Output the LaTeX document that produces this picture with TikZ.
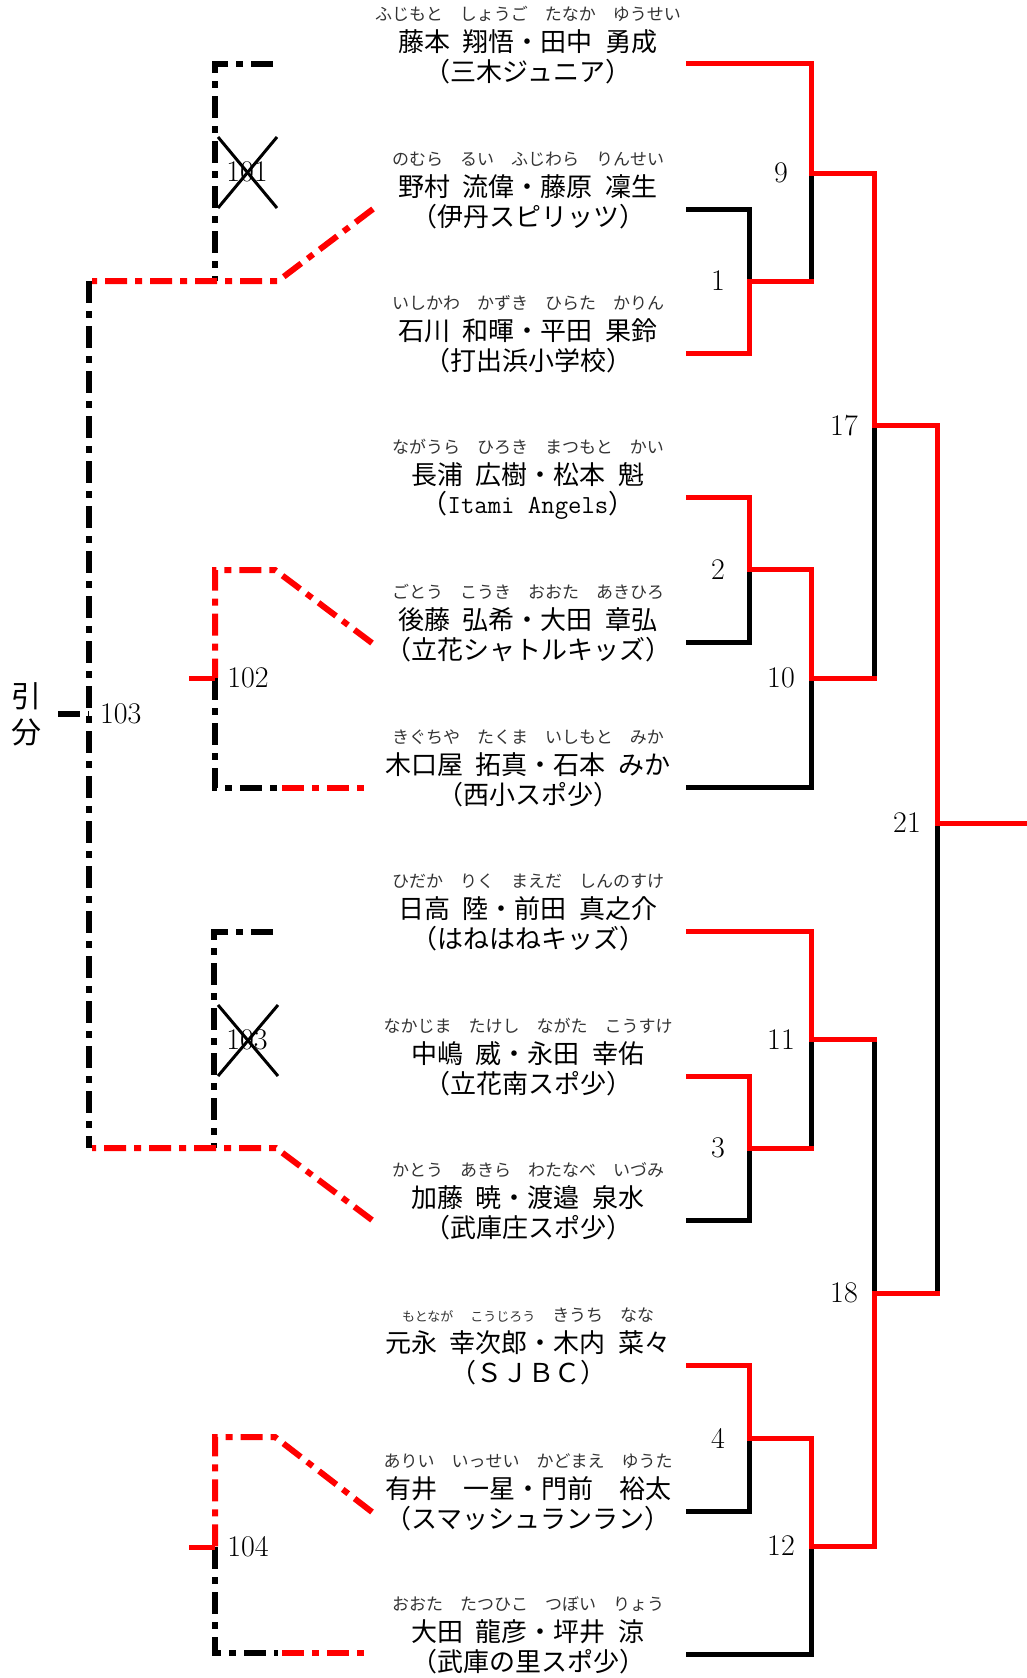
\documentclass[tikz,border=0pt]{standalone}
\usepackage{fontspec}
\newfontfamily\jp[WordSpace=2.2]{Noto Sans CJK JP}
\newcommand\fu[4]{#1\hspace{1.0em}#2\hspace{1.0em}#3\hspace{1.0em}#4}
\newcommand\sm[1]{{\fontsize{13}{15}\selectfont #1}}
\tikzset{
  win/.style={draw=red,line width=5pt,line cap=rect},
  lose/.style={draw=black,line width=5pt,line cap=rect},
  dd/.style={line width=6pt,dash pattern=on 22pt off 8pt on 7pt off 8pt},
  ddr/.style={dd,draw=red},
  ddb/.style={dd,draw=black},
  stub/.style={draw=red,line width=5pt},
  nm/.style={font=\jp\fontsize{26}{30}\selectfont,inner sep=0pt},
  fg/.style={font=\jp\fontsize{17}{20}\selectfont,text=black!80,inner sep=0pt},
  num/.style={font=\fontsize{30}{34}\selectfont,inner sep=0pt},
  xmark/.style={draw=black,line width=3pt},
}
\newcommand\player[5]{%
  \node[fg] (f#1) at (528,#2-50) {#3};
  \node[nm] (n#1) at (528,#2-22) {#4};
  \node[nm] (c#1) at (528,#2+8) {#5};
}
\begin{document}
\begin{tikzpicture}[x=1pt,y=-1pt]
\useasboundingbox (0,0) rectangle (1027,1678);

% players
\player{1}{64}{\fu{ふじもと}{しょうご}{たなか}{ゆうせい}}{藤本 翔悟・田中 勇成}{（三木ジュニア）}
\player{2}{209}{\fu{のむら}{るい}{ふじわら}{りんせい}}{野村 流偉・藤原 凜生}{（伊丹スピリッツ）}
\player{3}{353}{\fu{いしかわ}{かずき}{ひらた}{かりん}}{石川 和暉・平田 果鈴}{（打出浜小学校）}
\player{4}{497}{\fu{ながうら}{ひろき}{まつもと}{かい}}{長浦 広樹・松本 魁}{（{\ttfamily Itami Angels}）}
\player{5}{642}{\fu{ごとう}{こうき}{おおた}{あきひろ}}{後藤 弘希・大田 章弘}{（立花シャトルキッズ）}
\player{6}{787}{\fu{きぐちや}{たくま}{いしもと}{みか}}{木口屋 拓真・石本 みか}{（西小スポ少）}
\player{7}{931}{\fu{ひだか}{りく}{まえだ}{しんのすけ}}{日高 陸・前田 真之介}{（はねはねキッズ）}
\player{8}{1076}{\fu{なかじま}{たけし}{ながた}{こうすけ}}{中嶋 威・永田 幸佑}{（立花南スポ少）}
\player{9}{1220}{\fu{かとう}{あきら}{わたなべ}{いづみ}}{加藤 暁・渡邉 泉水}{（武庫庄スポ少）}
\player{10}{1365}{\fu{\sm{もとなが}}{\sm{こうじろう}}{きうち}{なな}}{元永 幸次郎・木内 菜々}{（ＳＪＢＣ）}
\player{11}{1511}{\fu{ありい}{いっせい}{かどまえ}{ゆうた}}{有井　一星・門前　裕太}{（スマッシュランラン）}
\player{12}{1654}{\fu{おおた}{たつひこ}{つぼい}{りょう}}{大田 龍彦・坪井 涼}{（武庫の里スポ少）}

% main bracket: losing lines
\draw[lose] (688,209) -- (749,209) -- (749,281);
\draw[lose] (811,281) -- (811,173);
\draw[lose] (688,642) -- (749,642) -- (749,569.5);
\draw[lose] (688,787) -- (811,787) -- (811,678);
\draw[lose] (874,678) -- (874,425.5);
\draw[lose] (937,823) -- (937,1293);
\draw[lose] (688,1220) -- (749,1220) -- (749,1148);
\draw[lose] (811,1148) -- (811,1039.5);
\draw[lose] (874,1039.5) -- (874,1293);
\draw[lose] (688,1511) -- (749,1511) -- (749,1438);
\draw[lose] (688,1654) -- (811,1654) -- (811,1546);

% main bracket: winning lines
\draw[win] (688,64) -- (811,64) -- (811,173) -- (874,173) -- (874,425.5) -- (937,425.5) -- (937,823) -- (1030,823);
\draw[win] (688,353) -- (749,353) -- (749,281) -- (811,281);
\draw[win] (688,497) -- (749,497) -- (749,569.5) -- (811,569.5) -- (811,678) -- (874,678);
\draw[win] (688,931) -- (811,931) -- (811,1039.5) -- (874,1039.5);
\draw[win] (688,1076) -- (749,1076) -- (749,1148) -- (811,1148);
\draw[win] (688,1365) -- (749,1365) -- (749,1438) -- (811,1438) -- (811,1546) -- (874,1546) -- (874,1293) -- (937,1293);

% match numbers
\node[num] (m9)  at (781,173) {9};
\node[num] (m1)  at (718,281) {1};
\node[num] (m17) at (844,425.5) {17};
\node[num] (m2)  at (718,569.5) {2};
\node[num] (m10) at (781,678) {10};
\node[num] (m21) at (907,823) {21};
\node[num] (m11) at (781,1039.5) {11};
\node[num] (m3)  at (718,1148) {3};
\node[num] (m18) at (844,1293) {18};
\node[num] (m4)  at (718,1438) {4};
\node[num] (m12) at (781,1546) {12};

% consolation (dash-dot) side
\draw[ddb] (273,64) -- (215,64) -- (215,281);
\draw[ddr] (373,209) -- (278,281) -- (92,281);
\draw[ddb] (89,281) -- (89,1148);
\draw[ddb] (58,714) -- (89,714);
\draw[ddr] (372,643) -- (275,570) -- (215,570) -- (215,678);
\draw[ddb] (215,678) -- (215,788) -- (278,788);
\draw[ddr] (282,788) -- (367,788);
\draw[ddb] (273,932) -- (214,932) -- (214,1148);
\draw[ddr] (372,1220) -- (276,1148) -- (92,1148);
\draw[ddr] (372,1512) -- (275,1437) -- (215,1437) -- (215,1547);
\draw[ddb] (215,1547) -- (215,1653) -- (278,1653);
\draw[ddr] (282,1653) -- (367,1653);
\draw[stub] (189,678) -- (215,678);
\draw[stub] (189,1547) -- (215,1547);

\node[num] (m101) at (247,172) {101};
\draw[xmark] (218,137) -- (277,208);
\draw[xmark] (218,208) -- (277,137);
\node[num] (m102) at (248,678) {102};
\node[num,anchor=west] (m103) at (100,714) {103};
\node[num] (m103b) at (247,1040) {103};
\draw[xmark] (218,1005) -- (278,1076);
\draw[xmark] (218,1076) -- (278,1005);
\node[num] (m104) at (248,1547) {104};
\node[font=\jp\fontsize{30}{36}\selectfont,align=center,inner sep=0pt] (draw) at (27,714) {引\\分};
\end{tikzpicture}
\end{document}
